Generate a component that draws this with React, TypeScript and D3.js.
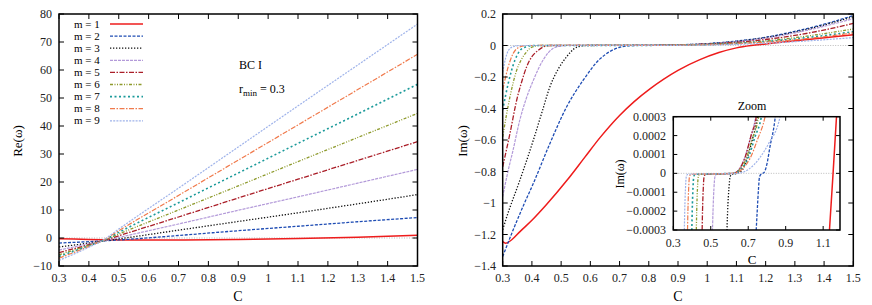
import React from 'react';
import * as d3 from 'd3';

// Re(omega) sampled at these C values, one array per m
const reC = [0.3, 0.4, 0.45, 0.5, 0.7, 0.9, 1.1, 1.3, 1.5];
const reM1 = [-0.3, -0.5, -0.6, -0.7, -0.7, -0.5, -0.2, 0.3, 1.0];
const reM2 = [-1.8, -1.3, -1.0, -0.7, 0.9, 2.6, 4.2, 5.8, 7.3];
const reM3 = [-3.2, -1.8, -1.0, -0.3, 2.8, 5.9, 9.0, 12.2, 15.5];
const reM4 = [-4.3, -2.1, -1.0, 0.2, 5.0, 9.9, 14.7, 19.6, 24.5];
const reM5 = [-5.2, -2.4, -0.9, 0.8, 7.5, 14.3, 21.0, 27.7, 34.4];
const reM6 = [-6.0, -2.6, -0.85, 1.4, 10.0, 18.6, 27.3, 35.9, 44.5];
const reM7 = [-6.6, -2.8, -0.8, 2.0, 12.6, 23.2, 33.8, 44.3, 54.9];
const reM8 = [-7.2, -3.0, -0.7, 2.6, 15.2, 27.8, 40.4, 53.0, 65.6];
const reM9 = [-8.0, -3.3, -0.6, 3.2, 17.8, 32.5, 47.2, 61.8, 76.4];

// Im(omega): [C, value] pairs
const imM1 = [[0.3, -1.245], [0.31, -1.255], [0.33, -1.235], [0.36, -1.18], [0.4, -1.11], [0.45, -1.01], [0.52, -0.856], [0.58, -0.712], [0.633, -0.585], [0.7, -0.444], [0.75, -0.356], [0.804, -0.275], [0.85, -0.215], [0.9, -0.158], [0.975, -0.09], [1.04, -0.045], [1.1, -0.015], [1.15, 0.0], [1.2, 0.01], [1.32, 0.034], [1.5, 0.068]];
const imM2 = [[0.3, -1.34], [0.336, -1.17], [0.37, -1.02], [0.405, -0.875], [0.462, -0.62], [0.519, -0.389], [0.576, -0.219], [0.633, -0.085], [0.667, -0.038], [0.7, -0.012], [0.75, 0], [0.8, 0.001], [0.9, 0.004], [1.0, 0.012], [1.1, 0.028], [1.2, 0.052], [1.3, 0.09], [1.4, 0.135], [1.5, 0.19]];
const imM3 = [[0.3, -1.17], [0.314, -1.087], [0.359, -0.854], [0.405, -0.6], [0.435, -0.42], [0.462, -0.26], [0.49, -0.15], [0.519, -0.071], [0.545, -0.02], [0.57, -0.003], [0.6, 0], [0.8, 0.001], [0.9, 0.004], [1.0, 0.011], [1.1, 0.026], [1.2, 0.05], [1.3, 0.085], [1.4, 0.13], [1.5, 0.183]];
const imM4 = [[0.3, -0.96], [0.318, -0.8], [0.336, -0.66], [0.359, -0.47], [0.38, -0.34], [0.405, -0.22], [0.439, -0.09], [0.473, -0.018], [0.5, -0.003], [0.52, 0], [0.8, 0.001], [1.0, 0.01], [1.2, 0.046], [1.35, 0.1], [1.5, 0.17]];
const imM5 = [[0.3, -0.77], [0.325, -0.557], [0.348, -0.346], [0.365, -0.23], [0.382, -0.135], [0.4, -0.07], [0.416, -0.039], [0.44, -0.008], [0.46, 0], [0.8, 0.001], [1.0, 0.009], [1.2, 0.038], [1.35, 0.08], [1.5, 0.14]];
const imM6 = [[0.3, -0.58], [0.312, -0.45], [0.325, -0.325], [0.348, -0.156], [0.365, -0.085], [0.382, -0.04], [0.4, -0.01], [0.43, 0], [0.8, 0.001], [1.0, 0.007], [1.2, 0.029], [1.35, 0.062], [1.5, 0.105]];
const imM7 = [[0.3, -0.41], [0.319, -0.24], [0.342, -0.092], [0.36, -0.03], [0.38, -0.008], [0.4, 0], [0.8, 0.001], [1.0, 0.006], [1.2, 0.025], [1.35, 0.052], [1.5, 0.088]];
const imM8 = [[0.3, -0.283], [0.319, -0.135], [0.336, -0.05], [0.355, -0.012], [0.38, 0], [0.8, 0.001], [1.0, 0.005], [1.2, 0.022], [1.35, 0.045], [1.5, 0.08]];
const imM9 = [[0.3, -0.17], [0.31, -0.08], [0.32, -0.03], [0.335, -0.008], [0.36, 0], [0.8, 0.0005], [1.0, 0.003], [1.2, 0.014], [1.35, 0.03], [1.5, 0.05]];

// zoomed Im(omega), value in units of 1e-4
const zmM1 = [[1.13, -3.6], [1.153, 0], [1.175, 3.6]];
const zmM2 = [[0.74, -3.5], [0.748, -2], [0.755, -0.8], [0.76, -0.2], [0.768, -0.05], [0.785, 0.05], [0.8, 0.5], [0.816, 1.4], [0.842, 2.8], [0.85, 3.5]];
const zmM3 = [[0.585, -3.5], [0.59, -2], [0.597, -0.8], [0.603, -0.2], [0.612, -0.05], [0.64, 0], [0.67, 0.2], [0.69, 0.7], [0.72, 1.7], [0.75, 3.0], [0.758, 3.5]];
const zmM4 = [[0.508, -3.5], [0.512, -2], [0.517, -0.8], [0.522, -0.2], [0.53, -0.05], [0.62, 0], [0.65, 0.2], [0.68, 0.8], [0.71, 1.8], [0.74, 3.0], [0.748, 3.5]];
const zmM5 = [[0.453, -3.5], [0.456, -2], [0.46, -0.8], [0.464, -0.2], [0.472, -0.05], [0.62, 0], [0.655, 0.25], [0.685, 0.9], [0.715, 2.0], [0.743, 3.0], [0.75, 3.5]];
const zmM6 = [[0.422, -3.5], [0.425, -2], [0.429, -0.8], [0.433, -0.2], [0.44, -0.05], [0.62, 0], [0.655, 0.2], [0.69, 0.8], [0.72, 1.8], [0.755, 3.0], [0.762, 3.5]];
const zmM7 = [[0.398, -3.5], [0.401, -2], [0.405, -0.8], [0.409, -0.2], [0.416, -0.05], [0.62, 0], [0.66, 0.2], [0.7, 0.8], [0.735, 1.9], [0.77, 3.0], [0.778, 3.5]];
const zmM8 = [[0.375, -3.5], [0.378, -2], [0.382, -0.8], [0.386, -0.2], [0.393, -0.05], [0.62, 0], [0.665, 0.2], [0.71, 0.8], [0.75, 1.8], [0.79, 3.0], [0.8, 3.5]];
const zmM9 = [[0.358, -3.5], [0.361, -2], [0.365, -0.8], [0.369, -0.2], [0.376, -0.05], [0.64, 0], [0.7, 0.2], [0.76, 0.8], [0.81, 1.6], [0.87, 3.0], [0.88, 3.5]];

const labels = ['m = 1', 'm = 2', 'm = 3', 'm = 4', 'm = 5', 'm = 6', 'm = 7', 'm = 8', 'm = 9'];
const reSeries = [reM1, reM2, reM3, reM4, reM5, reM6, reM7, reM8, reM9];
const imSeries = [imM1, imM2, imM3, imM4, imM5, imM6, imM7, imM8, imM9];
const zmSeries = [zmM1, zmM2, zmM3, zmM4, zmM5, zmM6, zmM7, zmM8, zmM9];

const styles = [
  { color: '#ee1c1c', dash: '', w: 1.5 },
  { color: '#1f4db4', dash: '3,1.5', w: 1.3 },
  { color: '#111111', dash: '1.3,1.7', w: 1.3 },
  { color: '#b39ad9', dash: '3,1', w: 1.2 },
  { color: '#aa1e28', dash: '5,1.5,1.5,1.5', w: 1.3 },
  { color: '#8e9a2c', dash: '3,1.5,1,1.5,1,1.5', w: 1.3 },
  { color: '#1b9a9a', dash: '2,2.5', w: 1.6 },
  { color: '#f07a4c', dash: '5,1.5,1.5,1.5', w: 1.2 },
  { color: '#9fb3ea', dash: '2,1.2', w: 1.2 },
];

const FONT = '"Liberation Serif", "Times New Roman", serif';
const fmt = (v: number, d: number) => {
  const s = (+v.toFixed(d)).toString();
  return s.startsWith('-') ? '\u2212' + s.slice(1) : s;
};

const Frame = ({ x, y, xt, yt, len = 5 }: any) => {
  const [x0, x1] = x.range();
  const [y0, y1] = y.range();
  return (
    <g stroke="#000" strokeWidth={1}>
      {xt.map((t: number) => (
        <g key={'x' + t}>
          <line x1={x(t)} x2={x(t)} y1={y0} y2={y0 - len} />
          <line x1={x(t)} x2={x(t)} y1={y1} y2={y1 + len} />
        </g>
      ))}
      {yt.map((t: number) => (
        <g key={'y' + t}>
          <line x1={x0} x2={x0 + len} y1={y(t)} y2={y(t)} />
          <line x1={x1} x2={x1 - len} y1={y(t)} y2={y(t)} />
        </g>
      ))}
      <rect x={x0} y={y1} width={x1 - x0} height={y0 - y1} fill="none" strokeWidth={1.5} />
    </g>
  );
};

export default function App() {
  // left panel
  const xL = d3.scaleLinear().domain([0.3, 1.5]).range([59, 417.5]);
  const yL = d3.scaleLinear().domain([-10, 80]).range([266, 14]);
  // right panel
  const xR = d3.scaleLinear().domain([0.3, 1.5]).range([502.7, 853.3]);
  const yR = d3.scaleLinear().domain([-1.4, 0.2]).range([266, 14]);
  // inset
  const xI = d3.scaleLinear().domain([0.3, 1.19]).range([673.3, 840]);
  const yI = d3.scaleLinear().domain([-3, 3]).range([230, 116.7]);

  const xTicks = d3.range(0, 13).map(i => +(0.3 + i * 0.1).toFixed(1));
  const yLTicks = d3.range(-10, 81, 10);
  const yRTicks = d3.range(0, 9).map(i => +(-1.4 + i * 0.2).toFixed(1));
  const xITicks = [0.3, 0.5, 0.7, 0.9, 1.1];
  const yITicks = [-3, -2, -1, 0, 1, 2, 3];

  const reLine = d3.line<number>().x((_, i) => xL(reC[i])).y(d => yL(d)).curve(d3.curveMonotoneX);
  const imLine = d3.line<number[]>().x(d => xR(d[0])).y(d => yR(d[1])).curve(d3.curveMonotoneX);
  const zmLine = d3.line<number[]>().x(d => xI(d[0])).y(d => yI(d[1])).curve(d3.curveMonotoneX);

  const tick = { fontFamily: FONT, fontSize: 12, fill: '#222' };

  return (
    <svg width={872} height={305} style={{ position: 'absolute', left: 0, top: 0, background: '#fff' }}>
      <defs>
        <clipPath id="clipL"><rect x={59} y={14} width={358.5} height={252} /></clipPath>
        <clipPath id="clipR"><rect x={502.7} y={14} width={350.6} height={252} /></clipPath>
        <clipPath id="clipI"><rect x={673.3} y={116.7} width={166.7} height={113.3} /></clipPath>
      </defs>

      {/* ---------- left: Re(omega) ---------- */}
      <line x1={xL(0.3)} x2={xL(1.5)} y1={yL(0)} y2={yL(0)} stroke="#aaa" strokeWidth={0.8} strokeDasharray="1,1.5" />
      <g clipPath="url(#clipL)" fill="none">
        {reSeries.map((s, i) => (
          <path key={i} d={reLine(s) || ''} stroke={styles[i].color} strokeWidth={styles[i].w} strokeDasharray={styles[i].dash} />
        ))}
      </g>
      <Frame x={xL} y={yL} xt={xTicks} yt={yLTicks} />
      {xTicks.map(t => (
        <text key={t} x={xL(t)} y={282} textAnchor="middle" {...tick}>{fmt(t, 1)}</text>
      ))}
      {yLTicks.map(t => (
        <text key={t} x={52} y={yL(t) + 4} textAnchor="end" {...tick}>{fmt(t, 0)}</text>
      ))}
      <text x={238} y={301} textAnchor="middle" fontFamily={FONT} fontSize={14}>C</text>
      <text transform="translate(22,141) rotate(-90)" textAnchor="middle" fontFamily={FONT} fontSize={13}>Re(ω)</text>

      {/* legend */}
      {labels.map((lab, i) => (
        <g key={lab}>
          <text x={74} y={27.5 + i * 12.1} fontFamily={FONT} fontSize={11}>{lab}</text>
          <line x1={110} x2={143} y1={24 + i * 12.1} y2={24 + i * 12.1} stroke={styles[i].color} strokeWidth={styles[i].w} strokeDasharray={styles[i].dash} />
        </g>
      ))}
      <text x={239} y={69} fontFamily={FONT} fontSize={12}>BC I</text>
      <text x={239} y={93} fontFamily={FONT} fontSize={12}>
        r<tspan fontSize={9} dy={3}>min</tspan><tspan dy={-3}> = 0.3</tspan>
      </text>

      {/* ---------- right: Im(omega) ---------- */}
      <line x1={xR(0.3)} x2={xR(1.5)} y1={yR(0)} y2={yR(0)} stroke="#aaa" strokeWidth={0.8} strokeDasharray="1,1.5" />
      <g clipPath="url(#clipR)" fill="none">
        {imSeries.map((s, i) => (
          <path key={i} d={imLine(s) || ''} stroke={styles[i].color} strokeWidth={styles[i].w} strokeDasharray={styles[i].dash} />
        ))}
      </g>
      <Frame x={xR} y={yR} xt={xTicks} yt={yRTicks} />
      {xTicks.map(t => (
        <text key={t} x={xR(t)} y={282} textAnchor="middle" {...tick}>{fmt(t, 1)}</text>
      ))}
      {yRTicks.map(t => (
        <text key={t} x={496} y={yR(t) + 4} textAnchor="end" {...tick}>{fmt(t, 1)}</text>
      ))}
      <text x={678} y={301} textAnchor="middle" fontFamily={FONT} fontSize={14}>C</text>
      <text transform="translate(467,141) rotate(-90)" textAnchor="middle" fontFamily={FONT} fontSize={13}>Im(ω)</text>

      {/* ---------- inset ---------- */}
      <rect x={673.3} y={116.7} width={166.7} height={113.3} fill="#fff" />
      <line x1={xI(0.3)} x2={xI(1.19)} y1={yI(0)} y2={yI(0)} stroke="#aaa" strokeWidth={0.8} strokeDasharray="1,1.5" />
      <g clipPath="url(#clipI)" fill="none">
        {zmSeries.map((s, i) => (
          <path key={i} d={zmLine(s) || ''} stroke={styles[i].color} strokeWidth={styles[i].w} strokeDasharray={styles[i].dash} />
        ))}
      </g>
      <Frame x={xI} y={yI} xt={xITicks} yt={yITicks} len={4} />
      {xITicks.map(t => (
        <text key={t} x={xI(t)} y={247} textAnchor="middle" {...tick}>{fmt(t, 1)}</text>
      ))}
      {yITicks.map(t => (
        <text key={t} x={666} y={yI(t) + 4} textAnchor="end" {...tick}>{t === 0 ? '0' : fmt(t * 1e-4, 4)}</text>
      ))}
      <text x={752} y={264} textAnchor="middle" fontFamily={FONT} fontSize={13}>C</text>
      <text x={752} y={110} textAnchor="middle" fontFamily={FONT} fontSize={12}>Zoom</text>
      <text transform="translate(624,174) rotate(-90)" textAnchor="middle" fontFamily={FONT} fontSize={12}>Im(ω)</text>
    </svg>
  );
}
